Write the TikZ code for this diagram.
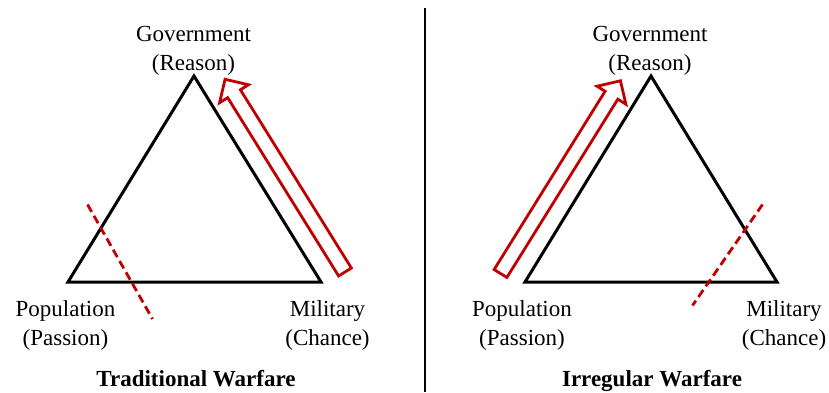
\documentclass[tikz,border=0pt]{standalone}
\usepackage{fontspec}
\setmainfont{Liberation Serif}
\begin{document}
\begin{tikzpicture}[x=1pt,y=-1pt,
  tri/.style={draw=black,line width=3pt,line join=miter},
  blockarrow/.style={draw=arrowred,line width=2.8pt,line join=miter},
  cutline/.style={draw=arrowred,line width=2.8pt,dash pattern=on 8.5pt off 4.5pt},
  lbl/.style={anchor=base,inner sep=0pt,font=\fontsize{23}{28}\selectfont},
  ttl/.style={anchor=base,inner sep=0pt,font=\fontsize{23}{28}\selectfont\bfseries},
  divider/.style={draw=black,line width=2pt}]
\definecolor{arrowred}{RGB}{192,0,0}
\useasboundingbox (0,0) rectangle (829,392);
% divider
\coordinate (dtop) at (425,8);
\coordinate (dbot) at (425,392);
\draw[divider] (dtop) -- (dbot);
% left triangle
\coordinate (LA) at (194,76);
\coordinate (LL) at (68,282);
\coordinate (LR) at (321,282);
\draw[tri] (LA) -- (LL) -- (LR) -- cycle;
% right triangle
\coordinate (RA) at (651,76);
\coordinate (RL) at (525,282);
\coordinate (RR) at (777,282);
\draw[tri] (RA) -- (RL) -- (RR) -- cycle;
% left block arrow (Military -> Government)
\begin{scope}[shift={(345,272)},rotate=121.9]
\draw[blockarrow] (0,-7.5) -- (210,-7.5) -- (210,-17) -- (227,0) -- (210,17) -- (210,7.5) -- (0,7.5) -- cycle;
\end{scope}
% right block arrow (Population -> Government)
\begin{scope}[shift={(500.5,273.5)},rotate=58.1]
\draw[blockarrow] (0,-7.5) -- (210,-7.5) -- (210,-17) -- (227,0) -- (210,17) -- (210,7.5) -- (0,7.5) -- cycle;
\end{scope}
% cut lines
\coordinate (lc1) at (87.5,204.5);
\coordinate (lc2) at (152.5,319);
\draw[cutline] (lc1) -- (lc2);
\coordinate (rc1) at (762.5,204.5);
\coordinate (rc2) at (692.5,305.5);
\draw[cutline] (rc1) -- (rc2);
% left labels
\node[lbl] (lgov) at (193.5,41) {Government};
\node[lbl] (lrea) at (193.5,70.5) {(Reason)};
\node[lbl] (lpop) at (65.5,316) {Population};
\node[lbl] (lpas) at (65.5,345) {(Passion)};
\node[lbl] (lmil) at (327.5,316) {Military};
\node[lbl] (lcha) at (327.5,345) {(Chance)};
\node[ttl] (ltitle) at (196,386.5) {Traditional Warfare};
% right labels
\node[lbl] (rgov) at (650,41) {Government};
\node[lbl] (rrea) at (650,70.5) {(Reason)};
\node[lbl] (rpop) at (522,316) {Population};
\node[lbl] (rpas) at (522,345) {(Passion)};
\node[lbl] (rmil) at (784,316) {Military};
\node[lbl] (rcha) at (784,345) {(Chance)};
\node[ttl] (rtitle) at (652,386.5) {Irregular Warfare};
\end{tikzpicture}
\end{document}
